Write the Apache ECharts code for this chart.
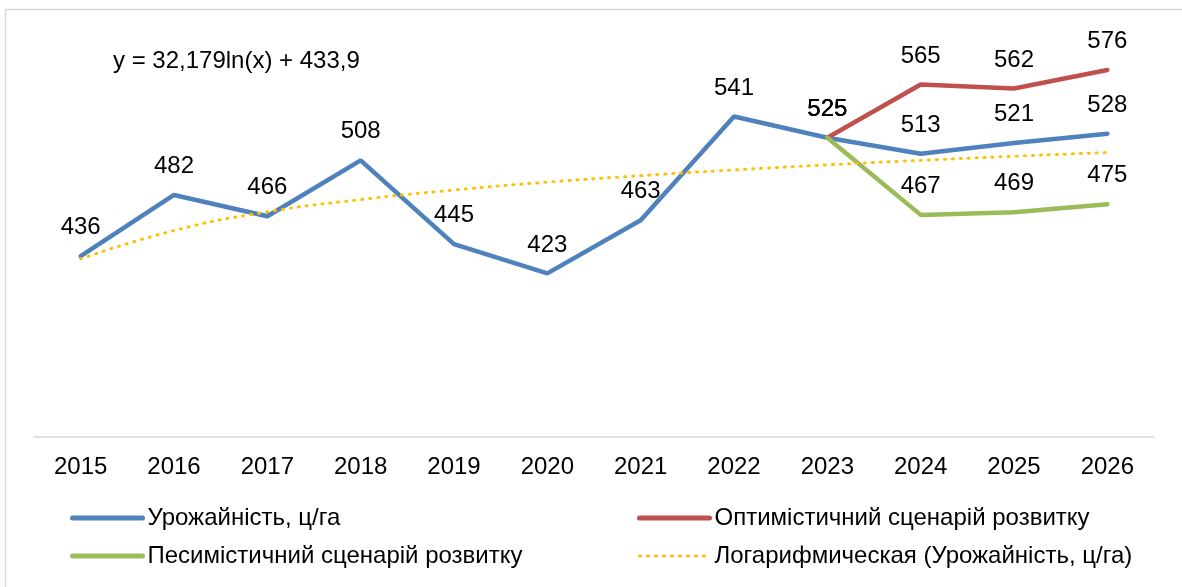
<!DOCTYPE html>
<html>
<head>
<meta charset="utf-8">
<script src="https://cdn.jsdelivr.net/npm/echarts@6/dist/echarts.min.js"></script>
<style>
  html, body { margin: 0; padding: 0; background: #fff; }
  #chart { width: 1182px; height: 587px; }
</style>
</head>
<body>
<div id="chart"></div>
<script>
// роки
const years = ['2015', '2016', '2017', '2018', '2019', '2020', '2021', '2022', '2023', '2024', '2025', '2026']
// урожайність, ц/га
const yieldValues = [436, 482, 466, 508, 445, 423, 463, 541, 525, 513, 521, 528]
const optimistic = [null, null, null, null, null, null, null, null, 525, 565, 562, 576]
const pessimistic = [null, null, null, null, null, null, null, null, 525, 467, 469, 475]
// логарифмічний тренд (як на рисунку)
const trend = [433.9, 455.2, 469.3, 478.5, 485.7, 491.6, 496.5, 500.8, 504.6, 508.0, 511.1, 513.9]

const names = ['Урожайність, ц/га', 'Оптимістичний сценарій розвитку', 'Песимістичний сценарій розвитку', 'Логарифмическая (Урожайність, ц/га)']
const font = 'Liberation Sans, Arial, sans-serif'

const myChart = echarts.init(document.getElementById('chart'))

const labelStyle = {
  show: true,
  position: 'top',
  distance: 16,
  color: '#000',
  fontFamily: font,
  fontSize: 24,
}

const legendBase = {
  orient: 'vertical',
  itemWidth: 70,
  itemHeight: 14,
  itemGap: 14,
  itemStyle: { opacity: 0 },
  textStyle: { fontFamily: font, fontSize: 24, color: '#000' },
}

const solidLegend = (n) => ({ name: n, lineStyle: { width: 5, cap: 'round' } })

let option = {
  animation: false,
  grid: { left: 34, right: 28, top: 38, bottom: 150 },
  graphic: [
    {
      type: 'rect',
      shape: { x: 5.5, y: 9.5, width: 1190, height: 600 },
      style: { fill: 'none', stroke: '#d9d9d9', lineWidth: 1.5 },
      silent: true,
    },
    {
      type: 'text',
      left: 113,
      top: 49,
      style: { text: 'y = 32,179ln(x) + 433,9', fontFamily: font, fontSize: 24, fill: '#000' },
    },
  ],
  legend: [
    Object.assign({}, legendBase, { left: 65, top: 501, data: [solidLegend(names[0]), solidLegend(names[2])] }),
    Object.assign({}, legendBase, { left: 632, top: 501, data: [solidLegend(names[1]), { name: names[3], lineStyle: { width: 3, type: [1, 7], cap: 'round' } }] }),
  ],
  xAxis: {
    type: 'category',
    data: years,
    boundaryGap: true,
    axisLine: { lineStyle: { color: '#d9d9d9', width: 1.5 } },
    axisTick: { show: false },
    axisLabel: { fontFamily: font, fontSize: 24, color: '#000', margin: 18 },
  },
  yAxis: {
    type: 'value',
    min: 300,
    max: 600,
    show: false,
    splitLine: { show: false },
  },
  series: [
    {
      name: names[0],
      type: 'line',
      data: yieldValues,
      symbol: 'circle',
      symbolSize: 1,
      lineStyle: { color: '#4F81BD', width: 4.5, cap: 'round' },
      itemStyle: { color: '#4F81BD' },
      label: labelStyle,
    },
    {
      name: names[1],
      type: 'line',
      data: optimistic,
      symbol: 'circle',
      symbolSize: 1,
      lineStyle: { color: '#C0504D', width: 4.5, cap: 'round' },
      itemStyle: { color: '#C0504D' },
      label: labelStyle,
    },
    {
      name: names[2],
      type: 'line',
      data: pessimistic,
      symbol: 'circle',
      symbolSize: 1,
      lineStyle: { color: '#9BBB59', width: 4.5, cap: 'round' },
      itemStyle: { color: '#9BBB59' },
      label: labelStyle,
    },
    {
      name: names[3],
      type: 'line',
      data: trend,
      smooth: true,
      symbol: 'none',
      lineStyle: { color: '#FFC000', width: 3, type: [1, 7], cap: 'round' },
      itemStyle: { color: '#FFC000' },
    },
  ],
}
option && myChart.setOption(option)
</script>
</body>
</html>
